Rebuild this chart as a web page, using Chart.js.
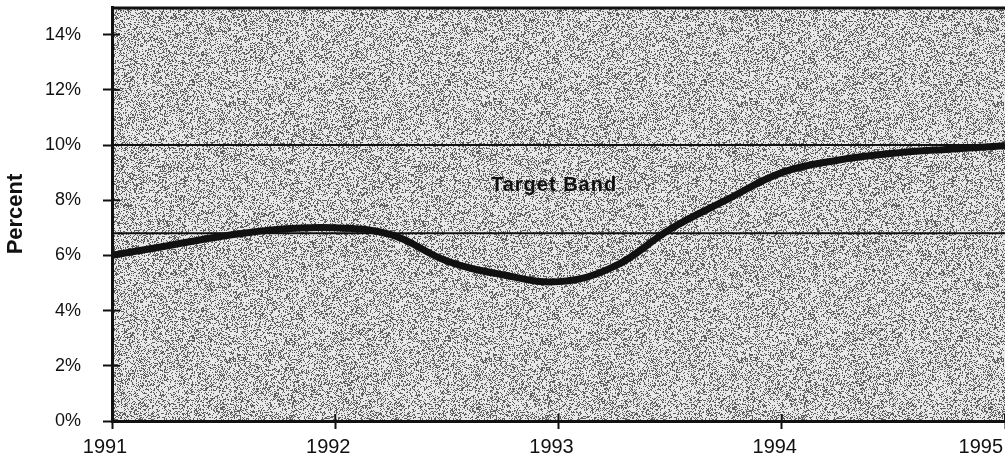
<!DOCTYPE html>
<html>
<head>
<meta charset="utf-8">
<script src="https://cdn.jsdelivr.net/npm/chart.js@4/dist/chart.umd.min.js"></script>
<style>
  html, body { margin: 0; padding: 0; background: #fff; }
  #wrap { width: 1005px; height: 463px; }
</style>
</head>
<body>
<div id="wrap"><canvas id="rateChart"></canvas></div>
<script>
// values (quarterly)
var years = [1991, 1991.25, 1991.5, 1991.75, 1992, 1992.25, 1992.5, 1992.75, 1993,
             1993.25, 1993.5, 1993.75, 1994, 1994.25, 1994.5, 1994.75, 1995];
var rates = [6.0, 6.35, 6.7, 6.95, 7.0, 6.75, 5.8, 5.3, 5.05,
             5.6, 6.95, 8.0, 9.0, 9.45, 9.7, 9.85, 9.97];

var bandYears = [1991, 1995];
var bandHigh = [10, 10];
var bandLow = [6.8, 6.8];
var bandLabel = 'Target Band';

var tickYears = [1991, 1992, 1993, 1994, 1995];
var tickLabels = ['1991', '1992', '1993', '1994', '1995'];

function toPoints(xs, ys) {
  return xs.map(function (x, i) { return { x: x, y: ys[i] }; });
}

function hash2(x, y) {
  var h = (Math.imul(x, 0x27d4eb2d) ^ Math.imul(y + 0x9e37, 0x165667b1)) | 0;
  h ^= h >>> 15; h = Math.imul(h, 0x85ebca6b);
  h ^= h >>> 13; h = Math.imul(h, 0xc2b2ae35);
  h ^= h >>> 16;
  return (h >>> 0) / 4294967295;
}

// grainy grey like the printed screen
function makeGrain() {
  var n = 256;
  var c = document.createElement('canvas');
  c.width = n; c.height = n;
  var g = c.getContext('2d');
  var img = g.createImageData(n, n);
  for (var y = 0; y < n; y++) {
    for (var x = 0; x < n; x++) {
      var v = hash2(x, y) < 0.32 ? 95 : 232;
      var k = (y * n + x) * 4;
      img.data[k] = v; img.data[k + 1] = v; img.data[k + 2] = v; img.data[k + 3] = 255;
    }
  }
  g.putImageData(img, 0, 0);
  return c;
}

var framePlugin = {
  id: 'frame',
  beforeDraw: function (chart) {
    var a = chart.chartArea, ctx = chart.ctx;
    ctx.save();
    ctx.fillStyle = ctx.createPattern(makeGrain(), 'repeat');
    ctx.fillRect(a.left, a.top, a.right - a.left, a.bottom - a.top);
    ctx.restore();
  },
  afterDraw: function (chart) {
    var a = chart.chartArea, ctx = chart.ctx;
    var xs = chart.scales.x, ys = chart.scales.y;
    ctx.save();
    ctx.strokeStyle = '#111';
    // top border
    ctx.lineWidth = 3;
    ctx.beginPath();
    ctx.moveTo(a.left - 1, a.top + 1);
    ctx.lineTo(a.right, a.top + 1);
    ctx.stroke();
    // tick stubs reaching inside the plot
    ctx.lineWidth = 2;
    ys.ticks.forEach(function (t) {
      var py = ys.getPixelForValue(t.value);
      ctx.beginPath(); ctx.moveTo(a.left, py); ctx.lineTo(a.left + 8, py); ctx.stroke();
    });
    tickYears.forEach(function (yr) {
      var px = xs.getPixelForValue(yr);
      ctx.beginPath(); ctx.moveTo(px, a.bottom); ctx.lineTo(px, a.bottom - 7); ctx.stroke();
    });
    // year labels
    ctx.fillStyle = '#111';
    ctx.font = '20px "Liberation Sans", Arial, sans-serif';
    ctx.textAlign = 'center';
    ctx.textBaseline = 'middle';
    tickYears.forEach(function (yr, i) {
      var w = ctx.measureText(tickLabels[i]).width;
      var px = xs.getPixelForValue(yr) - 7;
      px = Math.min(px, chart.width - 2 - w / 2);
      ctx.fillText(tickLabels[i], px, 447);
    });
    // band label
    ctx.font = 'bold 20px "Liberation Sans", Arial, sans-serif';
    ctx.letterSpacing = '1px';
    ctx.fillText(bandLabel, xs.getPixelForValue(1992.98), ys.getPixelForValue(8.55));
    ctx.restore();
  }
};

var ctx = document.getElementById('rateChart').getContext('2d');
var rateChart = new Chart(ctx, {
  type: 'line',
  data: {
    datasets: [
      {
        label: 'rate',
        data: toPoints(years, rates),
        borderColor: '#111',
        borderWidth: 7,
        pointRadius: 0,
        tension: 0.4,
        fill: false
      },
      {
        label: 'band high',
        data: toPoints(bandYears, bandHigh),
        borderColor: '#111',
        borderWidth: 2,
        pointRadius: 0
      },
      {
        label: 'band low',
        data: toPoints(bandYears, bandLow),
        borderColor: '#111',
        borderWidth: 2,
        pointRadius: 0
      }
    ]
  },
  options: {
    animation: false,
    responsive: true,
    maintainAspectRatio: false,
    layout: { padding: { top: 7, right: -4, bottom: 0, left: 0 } },
    plugins: {
      legend: { display: false },
      tooltip: { enabled: false }
    },
    scales: {
      x: {
        type: 'linear',
        min: 1991,
        max: 1995,
        afterFit: function (s) {
          s.height = 42;
          s.paddingLeft = 0; s.paddingRight = 0; s.paddingTop = 0; s.paddingBottom = 0;
        },
        ticks: { display: false, stepSize: 1 },
        grid: { drawOnChartArea: false, drawTicks: true, tickLength: 8, tickWidth: 2, tickColor: '#111' },
        border: { display: true, color: '#111', width: 3 }
      },
      y: {
        min: 0,
        max: 15,
        afterFit: function (s) {
          s.width = 112;
          s.paddingLeft = 0; s.paddingRight = 0; s.paddingTop = 0; s.paddingBottom = 0;
        },
        afterBuildTicks: function (s) {
          s.ticks = s.ticks.filter(function (t) { return t.value % 2 === 0; });
        },
        ticks: {
          stepSize: 1,
          padding: 22,
          color: '#111',
          font: { family: '"Liberation Sans", Arial, sans-serif', size: 18 },
          callback: function (v) { return v + '%'; }
        },
        grid: { drawOnChartArea: false, drawTicks: true, tickLength: 9, tickWidth: 2, tickColor: '#111' },
        border: { display: true, color: '#111', width: 3 },
        title: {
          display: true,
          text: 'Percent',
          color: '#111',
          font: { family: '"Liberation Sans", Arial, sans-serif', size: 22, weight: 'bold' },
          padding: { top: 3, bottom: 0 }
        }
      }
    }
  },
  plugins: [framePlugin]
});
</script>
</body>
</html>
